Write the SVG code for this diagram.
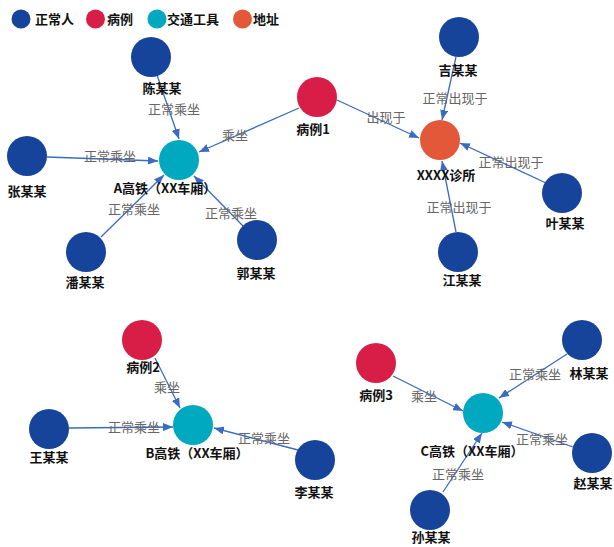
<svg xmlns="http://www.w3.org/2000/svg" width="614" height="547" viewBox="0 0 614 547">
<style>
.lg{font-family:"Noto Sans CJK SC","Noto Sans",sans-serif;font-size:13px;font-weight:bold;fill:#111}
.nl{font-family:"Noto Sans CJK SC","Noto Sans",sans-serif;font-size:13px;font-weight:bold;fill:#111;text-anchor:middle}
.el{font-family:"Noto Sans CJK SC","Noto Sans",sans-serif;font-size:13px;fill:#666;text-anchor:middle}
.p{fill:#17449b}
.c{fill:#d81e47}
.t{fill:#00a8c0}
.a{fill:#e4583a}
.e{stroke:#3a6bc4;stroke-width:1.3;fill:none;marker-end:url(#arr)}
</style>
<defs>
<marker id="arr" markerUnits="userSpaceOnUse" markerWidth="10" markerHeight="8" viewBox="0 0 10 8" refX="10" refY="4" orient="auto">
<path d="M0,0 L10,4 L0,8 z" fill="#3a6bc4"/>
</marker>
</defs>
<rect width="614" height="547" fill="#fff"/>
<g id="legend">
<circle class="p" cx="21" cy="19" r="9.5"/><text class="lg" x="35" y="24">正常人</text>
<circle class="c" cx="95.5" cy="19" r="9.5"/><text class="lg" x="107" y="24">病例</text>
<circle class="t" cx="157" cy="19" r="9.5"/><text class="lg" x="167" y="24">交通工具</text>
<circle class="a" cx="242.5" cy="19" r="9.5"/><text class="lg" x="253" y="24">地址</text>
</g>
<g id="edges">
<line class="e" x1="157" y1="75" x2="179" y2="139"/>
<line class="e" x1="299" y1="108" x2="199" y2="152"/>
<line class="e" x1="47" y1="157" x2="158" y2="161"/>
<line class="e" x1="101" y1="237" x2="164" y2="175"/>
<line class="e" x1="243" y1="226" x2="194" y2="176"/>
<line class="e" x1="337" y1="100" x2="419" y2="138"/>
<line class="e" x1="456" y1="57" x2="442" y2="120"/>
<line class="e" x1="546" y1="183" x2="460" y2="143"/>
<line class="e" x1="456" y1="232" x2="442" y2="161"/>
<line class="e" x1="155" y1="358" x2="180" y2="408"/>
<line class="e" x1="69" y1="428" x2="173" y2="427"/>
<line class="e" x1="298" y1="450" x2="214" y2="428"/>
<line class="e" x1="393" y1="376" x2="463" y2="411"/>
<line class="e" x1="567" y1="354" x2="499" y2="398"/>
<line class="e" x1="573" y1="447" x2="502" y2="422"/>
<line class="e" x1="443" y1="492" x2="482" y2="433"/>
<text class="el" x="174" y="114">正常乘坐</text>
<text class="el" x="235" y="140">乘坐</text>
<text class="el" x="110" y="161">正常乘坐</text>
<text class="el" x="134" y="214">正常乘坐</text>
<text class="el" x="231" y="218">正常乘坐</text>
<text class="el" x="386" y="122">出现于</text>
<text class="el" x="455" y="103">正常出现于</text>
<text class="el" x="511" y="167">正常出现于</text>
<text class="el" x="459" y="212">正常出现于</text>
<text class="el" x="167" y="392">乘坐</text>
<text class="el" x="134" y="432">正常乘坐</text>
<text class="el" x="264" y="443">正常乘坐</text>
<text class="el" x="424" y="401">乘坐</text>
<text class="el" x="535" y="379">正常乘坐</text>
<text class="el" x="542" y="444">正常乘坐</text>
<text class="el" x="458" y="479">正常乘坐</text>
</g>
<g id="n-chen"><circle class="p" cx="151" cy="57" r="20"/><text class="nl" x="162" y="93">陈某某</text></g>
<g id="n-zhang"><circle class="p" cx="27" cy="156" r="20"/><text class="nl" x="27" y="196">张某某</text></g>
<g id="n-pan"><circle class="p" cx="86" cy="252" r="20"/><text class="nl" x="85" y="287">潘某某</text></g>
<g id="n-guo"><circle class="p" cx="257" cy="240" r="20"/><text class="nl" x="256" y="278">郭某某</text></g>
<g id="n-trainA"><circle class="t" cx="179" cy="160" r="20"/><text class="nl" x="165" y="193">A高铁（XX车厢）</text></g>
<g id="n-case1"><circle class="c" cx="317" cy="97" r="20"/><text class="nl" x="313" y="134">病例1</text></g>
<g id="n-clinic"><circle class="a" cx="440" cy="140" r="20"/><text class="nl" x="446" y="180">XXXX诊所</text></g>
<g id="n-ji"><circle class="p" cx="459" cy="37" r="20"/><text class="nl" x="458" y="75">吉某某</text></g>
<g id="n-ye"><circle class="p" cx="562" cy="193" r="20"/><text class="nl" x="565" y="228">叶某某</text></g>
<g id="n-jiang"><circle class="p" cx="458" cy="252" r="20"/><text class="nl" x="462" y="285">江某某</text></g>
<g id="n-case2"><circle class="c" cx="142" cy="340" r="20"/><text class="nl" x="143" y="372">病例2</text></g>
<g id="n-trainB"><circle class="t" cx="193" cy="425" r="20"/><text class="nl" x="197" y="458">B高铁（XX车厢）</text></g>
<g id="n-wang"><circle class="p" cx="49" cy="429" r="20"/><text class="nl" x="49" y="462">王某某</text></g>
<g id="n-li"><circle class="p" cx="315" cy="460" r="20"/><text class="nl" x="314" y="497">李某某</text></g>
<g id="n-case3"><circle class="c" cx="376" cy="363" r="20"/><text class="nl" x="376" y="400">病例3</text></g>
<g id="n-trainC"><circle class="t" cx="483" cy="413" r="20"/><text class="nl" x="472" y="456">C高铁（XX车厢）</text></g>
<g id="n-lin"><circle class="p" cx="582" cy="340" r="20"/><text class="nl" x="589" y="378">林某某</text></g>
<g id="n-zhao"><circle class="p" cx="592" cy="453" r="20"/><text class="nl" x="593" y="488">赵某某</text></g>
<g id="n-sun"><circle class="p" cx="430" cy="510" r="20"/><text class="nl" x="431" y="542">孙某某</text></g>
</svg>
